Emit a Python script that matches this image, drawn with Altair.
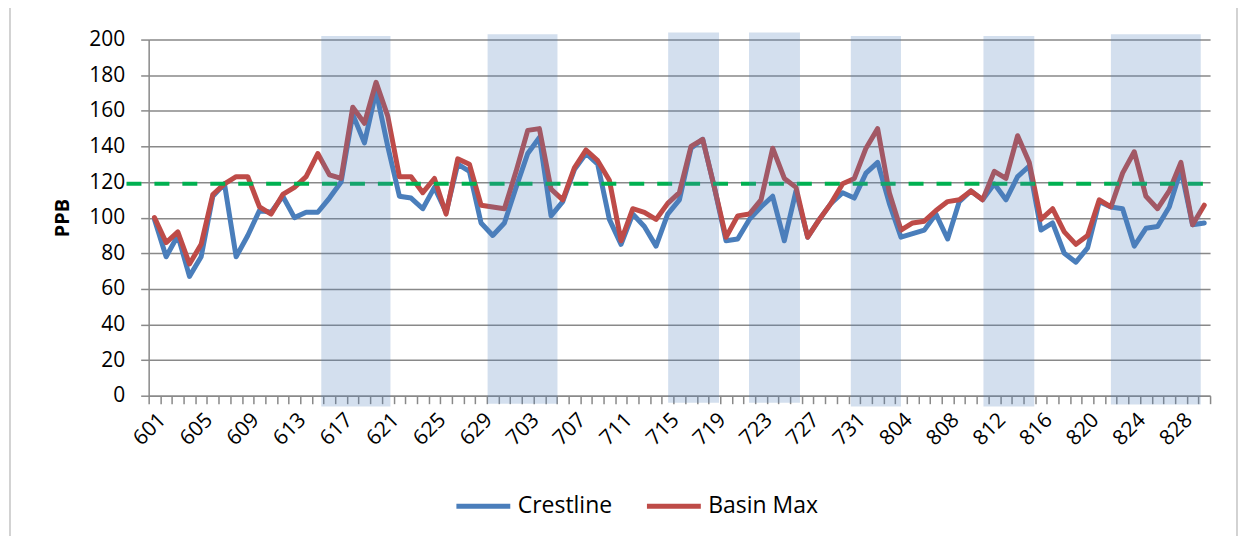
import altair as alt
import pandas as pd

# ---- data ----
dates = ([f"6{d:02d}" for d in range(1, 31)] +
         [f"7{d:02d}" for d in range(1, 32)] +
         [f"8{d:02d}" for d in range(1, 31)])

crestline = [99, 78, 90, 67, 78, 112, 119, 78, 90, 104,
             103, 112, 100, 103, 103, 111, 120, 158, 142, 171,
             140, 112, 111, 105, 117, 103, 130, 126, 97, 90,
             97, 117, 136, 145, 101, 109, 127, 136, 130, 99,
             85, 102, 95, 84, 102, 110, 139, 144, 117, 87,
             88, 99, 106, 112, 87, 115, 89, 99, 108, 114,
             111, 125, 131, 108, 89, 91, 93, 102, 88, 109,
             115, 110, 119, 110, 123, 129, 93, 97, 80, 75,
             83, 109, 106, 105, 84, 94, 95, 106, 127, 96,
             97]

basin_max = [100, 86, 92, 74, 85, 113, 119, 123, 123, 106,
             102, 113, 117, 123, 136, 124, 122, 162, 153, 176,
             157, 123, 123, 114, 122, 102, 133, 130, 107, 106,
             105, 126, 149, 150, 116, 110, 128, 138, 132, 121,
             87, 105, 103, 99, 108, 114, 140, 144, 117, 89,
             101, 102, 110, 139, 122, 117, 89, 99, 108, 119,
             122, 139, 150, 114, 93, 97, 98, 104, 109, 110,
             115, 110, 126, 122, 146, 131, 99, 105, 92, 85,
             90, 110, 106, 125, 137, 112, 105, 115, 131, 96,
             107]

series_names = ["Crestline", "Basin Max"]
series_colors = ["#4A7EBB", "#BE4B48"]

# shaded periods (in category units) and their vertical extent (PPB)
band_start = [14.8, 29.06, 44.54, 51.47, 60.2, 71.57, 82.5]
band_end = [20.73, 35.05, 48.9, 55.84, 64.5, 75.93, 90.2]
band_top = [202, 203, 204, 204, 202, 202, 203]
band_bottom = [-6, -4.5, -4, -4, -6, -6, -5]

threshold = 119
threshold_from = -1.9
threshold_to = 90.8

y_ticks = list(range(0, 201, 20))
label_every = 4

# ---- tables ----
n = len(dates)
rows = []
for name, vals in zip(series_names, [crestline, basin_max]):
    for i, v in enumerate(vals):
        rows.append({"pos": i + 0.5, "date": dates[i], "series": name, "ppb": v})
lines_df = pd.DataFrame(rows)

bands_df = pd.DataFrame({"start": band_start, "end": band_end,
                         "top": band_top, "bottom": band_bottom})
thr_df = pd.DataFrame({"x0": [threshold_from], "x1": [threshold_to], "y": [threshold]})

FONT = "Open Sans"
GRID = "#898989"
W, H = 1064, 357
x_scale = alt.Scale(domain=[0, n], nice=False, zero=False)
y_scale = alt.Scale(domain=[0, 200], nice=False)

label_expr = "[" + ",".join(f"'{d}'" for d in dates) + "][floor(datum.value)]"

lines = alt.Chart(lines_df).mark_line(strokeWidth=5, strokeJoin="round", strokeCap="round").encode(
    x=alt.X("pos:Q", scale=x_scale,
            axis=alt.Axis(orient="bottom", values=list(range(0, n + 1)), labels=False,
                          ticks=True, tickSize=8, tickColor=GRID, tickWidth=1.5,
                          domain=True, domainColor=GRID, domainWidth=1.5,
                          grid=False, title=None)),
    y=alt.Y("ppb:Q", scale=y_scale,
            axis=alt.Axis(orient="left", values=y_ticks, title="PPB", grid=True,
                          gridColor=GRID, gridWidth=1.5,
                          tickSize=8, tickColor=GRID, tickWidth=1.5,
                          domainColor=GRID, domainWidth=1.5,
                          labelFont=FONT, labelFontSize=21, labelColor="#000000", labelPadding=16,
                          titleFont=FONT, titleFontSize=20, titleFontWeight="bold",
                          titleColor="#000000", titlePadding=16)),
    color=alt.Color("series:N", scale=alt.Scale(domain=series_names, range=series_colors),
                    legend=alt.Legend(title=None, orient="none", legendX=306, legendY=438,
                                      direction="horizontal", symbolType="stroke",
                                      symbolSize=2916, symbolStrokeWidth=5,
                                      labelFont=FONT, labelFontSize=23, labelColor="#000000",
                                      labelOffset=5, columnPadding=24)),
    order="pos:Q",
)

thr = alt.Chart(thr_df).mark_rule(color="#00B050", strokeWidth=4, strokeDash=[15, 13]).encode(
    x=alt.X("x0:Q", scale=x_scale,
            axis=alt.Axis(orient="bottom", values=[i + 0.5 for i in range(0, n, label_every)],
                          labelExpr=label_expr, labelAngle=-45, labelAlign="right",
                          labelBaseline="top", labelFont=FONT, labelFontSize=21,
                          labelColor="#000000", labelPadding=13, ticks=False, domain=False,
                          grid=False, title=None, labelOverlap=False)),
    x2="x1:Q",
    y=alt.Y("y:Q", scale=y_scale, axis=None),
)

bands = alt.Chart(bands_df).mark_rect(color="#4F81BD", opacity=0.25).encode(
    x=alt.X("start:Q", scale=x_scale, axis=None),
    x2="end:Q",
    y=alt.Y("top:Q", scale=y_scale, axis=None),
    y2="bottom:Q",
)

# thin chart-area frame (left and right edges visible in the reference)
frame = alt.Chart(pd.DataFrame({"k": [0]})).mark_rect(
    fill="transparent", stroke="#A6A6A6", strokeWidth=1
).encode(
    x=alt.value(-139), x2=alt.value(W + 27),
    y=alt.value(-70), y2=alt.value(H + 160),
)

chart = alt.layer(lines, thr, bands, frame).resolve_axis(x="independent", y="independent").properties(
    width=W, height=H,
    autosize=alt.AutoSizeParams(type="none"),
    padding={"left": 141, "top": 31, "right": 30, "bottom": 140},
).configure_view(strokeWidth=0)

chart.save("out.html", embed_options={"renderer": "svg", "actions": False})
